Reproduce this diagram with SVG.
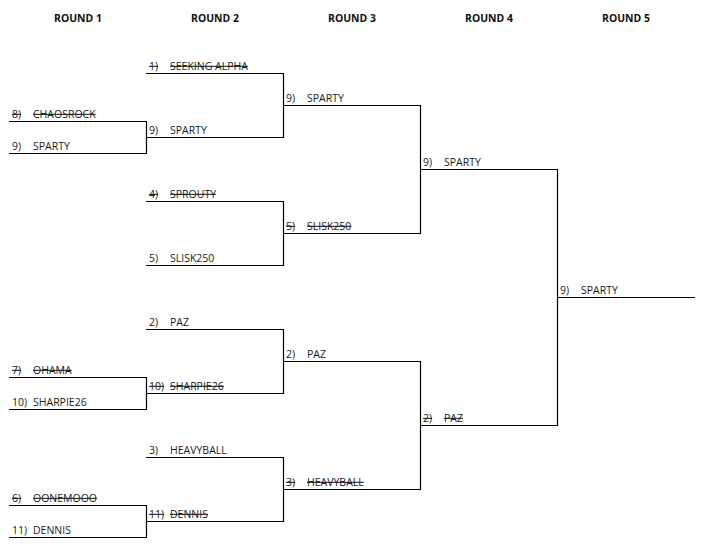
<svg xmlns="http://www.w3.org/2000/svg" width="703" height="547" viewBox="0 0 703 547">
<style>
text{font-family:"Open Sans","Liberation Sans",sans-serif;font-size:10.500px;fill:#1a1a1a}
.h{font-weight:700;font-size:10.400px;text-anchor:middle;fill:#111}
.x{text-decoration:line-through}
#connectors path{fill:none;stroke:#000;stroke-width:1.2}
</style>
<rect width="703" height="547" fill="#fff"/>
<g id="headers">
<text class="h" x="78" y="22">ROUND 1</text>
<text class="h" x="215" y="22">ROUND 2</text>
<text class="h" x="352" y="22">ROUND 3</text>
<text class="h" x="489" y="22">ROUND 4</text>
<text class="h" x="626" y="22">ROUND 5</text>
</g>
<g id="connectors">
<path d="M9 121.500H146.500V153.500H9"/>
<path d="M9 377.500H146.500V409.500H9"/>
<path d="M9 505.500H146.500V537.500H9"/>
<path d="M146 73.500H283.500V137.500H146"/>
<path d="M146 201.500H283.500V265.500H146"/>
<path d="M146 329.500H283.500V393.500H146"/>
<path d="M146 457.500H283.500V521.500H146"/>
<path d="M283 105.500H420.500V233.500H283"/>
<path d="M283 361.500H420.500V489.500H283"/>
<path d="M420 169.500H557.500V425.500H420"/>
<path d="M557 297.500H695"/>
</g>
<g id="r1-chaosrock"><text class="x" x="12" y="118">8)</text><text class="x" x="33" y="118">CHAOSROCK</text></g>
<g id="r1-sparty"><text x="12" y="150">9)</text><text x="33" y="150">SPARTY</text></g>
<g id="r1-ohama"><text class="x" x="12" y="374">7)</text><text class="x" x="33" y="374">OHAMA</text></g>
<g id="r1-sharpie26"><text x="12" y="406">10)</text><text x="33" y="406">SHARPIE26</text></g>
<g id="r1-oonemooo"><text class="x" x="12" y="502">6)</text><text class="x" x="33" y="502">OONEMOOO</text></g>
<g id="r1-dennis"><text x="12" y="534">11)</text><text x="33" y="534">DENNIS</text></g>
<g id="r2-seeking-alpha"><text class="x" x="149" y="70">1)</text><text class="x" x="170" y="70">SEEKING ALPHA</text></g>
<g id="r2-sparty"><text x="149" y="134">9)</text><text x="170" y="134">SPARTY</text></g>
<g id="r2-sprouty"><text class="x" x="149" y="198">4)</text><text class="x" x="170" y="198">SPROUTY</text></g>
<g id="r2-slisk250"><text x="149" y="262">5)</text><text x="170" y="262">SLISK250</text></g>
<g id="r2-paz"><text x="149" y="326">2)</text><text x="170" y="326">PAZ</text></g>
<g id="r2-sharpie26"><text class="x" x="149" y="390">10)</text><text class="x" x="170" y="390">SHARPIE26</text></g>
<g id="r2-heavyball"><text x="149" y="454">3)</text><text x="170" y="454">HEAVYBALL</text></g>
<g id="r2-dennis"><text class="x" x="149" y="518">11)</text><text class="x" x="170" y="518">DENNIS</text></g>
<g id="r3-sparty"><text x="286" y="102">9)</text><text x="307" y="102">SPARTY</text></g>
<g id="r3-slisk250"><text class="x" x="286" y="230">5)</text><text class="x" x="307" y="230">SLISK250</text></g>
<g id="r3-paz"><text x="286" y="358">2)</text><text x="307" y="358">PAZ</text></g>
<g id="r3-heavyball"><text class="x" x="286" y="486">3)</text><text class="x" x="307" y="486">HEAVYBALL</text></g>
<g id="r4-sparty"><text x="423" y="166">9)</text><text x="444" y="166">SPARTY</text></g>
<g id="r4-paz"><text class="x" x="423" y="422">2)</text><text class="x" x="444" y="422">PAZ</text></g>
<g id="r5-sparty"><text x="560" y="294">9)</text><text x="581" y="294">SPARTY</text></g>
</svg>
